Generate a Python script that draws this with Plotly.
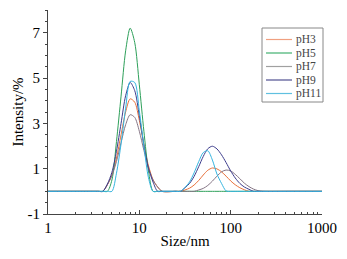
import plotly.graph_objects as go

# Size (nm) sample points for first-peak and second-peak regions
size_p1 = [3.55, 3.98, 4.47, 5.01, 5.62, 6.31, 7.08, 7.94, 8.91, 10.0,
           11.22, 12.59, 14.13, 15.85, 17.78]
size_p2 = [25.1, 28.2, 31.6, 35.5, 39.8, 44.7, 50.1, 56.2, 63.1, 70.8,
           79.4, 89.1, 100.0, 112.2, 125.9, 141.3, 158.5, 177.8, 199.5, 223.9]

# Intensities (%)
ph3_p1 = [0, 0, 0.29, 0.72, 1.47, 2.5, 3.5, 4.08, 3.93, 3.13, 2.07, 1.13, 0.51, 0.19, 0]
ph5_p1 = [0, 0, 0, 0.5, 2.2, 4.2, 6.2, 7.2, 6.56, 4.7, 2.65, 0.9, 0, 0, 0]
ph7_p1 = [0, 0, 0.3, 0.69, 1.32, 2.15, 2.94, 3.38, 3.26, 2.65, 1.81, 1.03, 0.5, 0.2, 0]
ph9_p1 = [0, 0, 0.32, 0.84, 1.77, 3.0, 4.22, 4.8, 4.44, 3.33, 2.04, 1.02, 0.41, 0, 0]
ph11_p1 = [0, 0, 0, 0, 0.8, 2.1, 3.67, 4.85, 4.8, 3.55, 2.0, 0.6, 0, 0, 0]

ph3_p2 = [0, 0, 0.06, 0.14, 0.28, 0.48, 0.72, 0.93, 1.03, 0.99, 0.86, 0.67, 0.46,
          0.29, 0.16, 0.07, 0, 0, 0, 0]
ph5_p2 = [0] * 20
ph7_p2 = [0, 0, 0, 0, 0, 0.06, 0.13, 0.26, 0.45, 0.67, 0.86, 0.94, 0.90, 0.75,
          0.56, 0.36, 0.21, 0.10, 0.03, 0]
ph9_p2 = [0, 0, 0.16, 0.35, 0.66, 1.09, 1.54, 1.88, 1.99, 1.87, 1.61, 1.27, 0.9,
          0.59, 0.35, 0.19, 0.09, 0, 0, 0]
ph11_p2 = [0, 0, 0.17, 0.42, 0.82, 1.31, 1.71, 1.79, 1.38, 0.76, 0.35, 0.02, 0,
           0, 0, 0, 0, 0, 0, 0]

edge_left = [1.0, 2.0]
edge_right = [500.0, 1000.0]
zeros2 = [0, 0]

names = ["pH3", "pH5", "pH7", "pH9", "pH11"]
colors = ["#e8703a", "#2ea05a", "#857585", "#3c3c8c", "#35b5e0"]
legend_colors = ["#f0a080", "#40b070", "#a0a0a0", "#505090", "#60c0e0"]
p1 = [ph3_p1, ph5_p1, ph7_p1, ph9_p1, ph11_p1]
p2 = [ph3_p2, ph5_p2, ph7_p2, ph9_p2, ph11_p2]

W, H = 347, 259
ML, MR, MT, MB = 48, 25, 10, 45
PW, PH = W - ML - MR, H - MT - MB


def px_x(px):
    return (px - ML) / PW


def px_y(py):
    return (H - MB - py) / PH


fig = go.Figure()
xs = edge_left + size_p1 + size_p2 + edge_right
for name, col, a, b in zip(names, colors, p1, p2):
    ys = zeros2 + a + b + zeros2
    fig.add_trace(go.Scatter(
        x=xs, y=ys, mode="lines", name=name, showlegend=False,
        line=dict(color=col, width=1, shape="spline", smoothing=0.8),
    ))

font_family = '"Liberation Serif", "Times New Roman", Times, serif'

# compact legend (box, line samples and labels)
shapes = [dict(type="rect", xref="paper", yref="paper",
               x0=px_x(262), x1=px_x(323), y0=px_y(102), y1=px_y(28),
               line=dict(color="#888888", width=1), fillcolor="white", layer="above")]
annotations = []
row_y = [39.5, 53, 66.5, 80, 93.5]
for name, col, ry in zip(names, legend_colors, row_y):
    shapes.append(dict(type="line", xref="paper", yref="paper",
                       x0=px_x(266), x1=px_x(292), y0=px_y(ry), y1=px_y(ry),
                       line=dict(color=col, width=1.2), layer="above"))
    annotations.append(dict(xref="paper", yref="paper", x=px_x(294), y=px_y(ry),
                            text=name, showarrow=False, xanchor="left", yanchor="middle",
                            font=dict(family=font_family, size=11.5, color="#444444")))

fig.update_layout(
    width=W, height=H,
    margin=dict(l=ML, r=MR, t=MT, b=MB),
    paper_bgcolor="white", plot_bgcolor="white",
    font=dict(family=font_family, size=14, color="black"),
    showlegend=False,
    shapes=shapes, annotations=annotations,
    xaxis=dict(
        type="log", range=[0, 3], automargin=False,
        showgrid=False, zeroline=False,
        showline=True, linecolor="#444444", linewidth=1,
        ticks="inside", ticklen=4, tickcolor="#444444",
        tickvals=[1, 10, 100, 1000], ticktext=["1", "10", "100", "1000"],
        minor=dict(ticks="inside", ticklen=2, tickcolor="#444444",
                   tickvals=[2, 3, 4, 5, 6, 7, 8, 9, 20, 30, 40, 50, 60, 70, 80, 90,
                             200, 300, 400, 500, 600, 700, 800, 900]),
        title=dict(text="Size/nm", font=dict(size=15), standoff=0),
        tickfont=dict(size=15),
    ),
    yaxis=dict(
        range=[-1, 8], automargin=False,
        showgrid=False, zeroline=False,
        showline=True, linecolor="#444444", linewidth=1,
        ticks="outside", ticklen=4, tickcolor="#444444",
        tickvals=[-1, 1, 3, 5, 7], ticktext=["-1", "1", "3", "5", "7"],
        minor=dict(ticks="outside", ticklen=2, tickcolor="#444444", dtick=0.5,
                   tick0=0),
        title=dict(text="Intensity/%", font=dict(size=15), standoff=0),
        tickfont=dict(size=15),
    ),
)

fig.write_html("out.html", config={"displayModeBar": False},
               post_script="document.body.style.margin='0';")
